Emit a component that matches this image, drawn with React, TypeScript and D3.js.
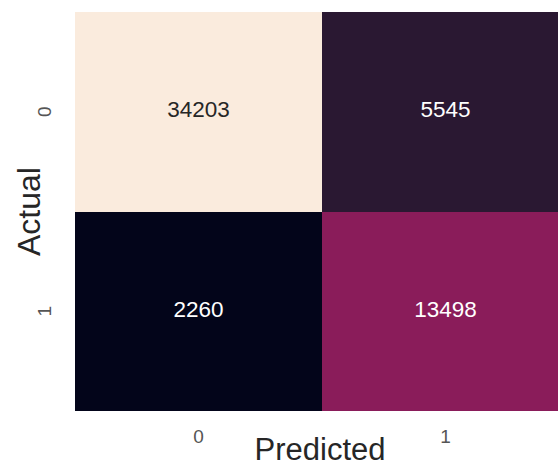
import React from "react";
import * as d3 from "d3";

const rowLabels = ["0", "1"];
const colLabels = ["0", "1"];
const matrix = [
  [34203, 5545],
  [2260, 13498],
];
// approximate seaborn "rocket" colormap anchors
const rocketStops = [0, 0.103, 0.352, 0.6, 0.8, 1];
const rocketColors = ["#03051a", "#2a1832", "#8a1c5a", "#e83f3f", "#f6a47c", "#faebdd"];

const W = 558;
const H = 467;
const left = 75;
const top = 12;
const cellW = 247;
const cellH = 199.5;

export default function App() {
  const flat = matrix.flat();
  const vmin = d3.min(flat) as number;
  const vmax = d3.max(flat) as number;
  const norm = d3.scaleLinear().domain([vmin, vmax]).range([0, 1]);
  const rocket = d3
    .scaleLinear<string>()
    .domain(rocketStops)
    .range(rocketColors)
    .interpolate(d3.interpolateRgb);

  const x = d3.scaleBand().domain(colLabels).range([left, left + cellW * 2]);
  const y = d3.scaleBand().domain(rowLabels).range([top, top + cellH * 2]);

  const font = "'Liberation Sans', Arial, sans-serif";

  return (
    <svg
      width={W}
      height={H}
      style={{ position: "absolute", left: 0, top: 0, background: "#fff" }}
      fontFamily={font}
    >
      {matrix.map((row, i) =>
        row.map((v, j) => {
          const t = norm(v);
          const fill = rocket(t);
          const textColor = t > 0.6 ? "#262626" : "#ffffff";
          const cx = (x(colLabels[j]) as number) + x.bandwidth() / 2;
          const cy = (y(rowLabels[i]) as number) + y.bandwidth() / 2;
          return (
            <g key={`${i}-${j}`}>
              <rect
                x={x(colLabels[j])}
                y={y(rowLabels[i])}
                width={x.bandwidth()}
                height={y.bandwidth()}
                fill={fill}
                shapeRendering="crispEdges"
              />
              <text
                x={cx}
                y={cy - 2}
                textAnchor="middle"
                dominantBaseline="central"
                fontSize={22.5}
                fill={textColor}
              >
                {v}
              </text>
            </g>
          );
        })
      )}
      {rowLabels.map((r) => {
        const cy = (y(r) as number) + y.bandwidth() / 2;
        return (
          <text
            key={`yl-${r}`}
            transform={`translate(44,${cy}) rotate(-90)`}
            textAnchor="middle"
            dominantBaseline="central"
            fontSize={19}
            fill="#555"
          >
            {r}
          </text>
        );
      })}
      {colLabels.map((c) => {
        const cx = (x(c) as number) + x.bandwidth() / 2;
        return (
          <text
            key={`xl-${c}`}
            x={cx}
            y={436}
            textAnchor="middle"
            dominantBaseline="central"
            fontSize={19}
            fill="#555"
          >
            {c}
          </text>
        );
      })}
      <text
        transform={`translate(40,${top + cellH}) rotate(-90)`}
        textAnchor="middle"
        fontSize={32}
        fill="#262626"
      >
        Actual
      </text>
      <text x={320} y={460} textAnchor="middle" fontSize={31} fill="#262626">
        Predicted
      </text>
    </svg>
  );
}
